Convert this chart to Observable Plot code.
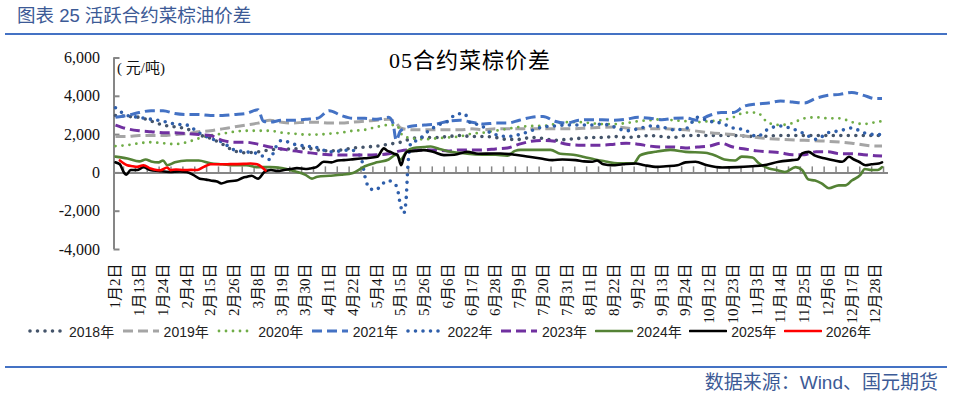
<!DOCTYPE html>
<html><head><meta charset="utf-8">
<script src="https://cdn.jsdelivr.net/npm/d3@7"></script>
<script src="https://cdn.jsdelivr.net/npm/@observablehq/plot@0.6"></script>
<style>
html,body{margin:0;padding:0;background:#fff;}
#page{position:relative;width:967px;height:395px;overflow:hidden;font-family:"Liberation Sans","Noto Sans CJK SC",sans-serif;}
#title{position:absolute;left:17px;top:3px;font-size:18.5px;color:#3c5a96;line-height:26px;white-space:nowrap;}
.rule{position:absolute;left:5px;width:942px;height:2px;background:#4472c4;}
#chart{position:absolute;left:0;top:40px;}
#ctitle{position:absolute;left:0;width:940px;text-align:center;top:47px;font-family:"Liberation Serif","Noto Sans CJK SC",serif;font-size:22px;letter-spacing:1px;color:#000;line-height:28px;}
#unit{position:absolute;left:117px;top:56px;font-family:"Liberation Serif","Noto Sans CJK SC",serif;font-size:15px;color:#111;white-space:pre;}
#legend{position:absolute;left:27px;top:321px;display:flex;}
.item{width:94.6px;display:flex;align-items:center;font-size:14px;color:#222;white-space:nowrap;}
.item svg{margin-right:4px;}
#source{position:absolute;right:29px;top:370px;font-size:19px;color:#3c5a96;line-height:26px;white-space:nowrap;}
</style></head>
<body>
<div id="page">
  <div id="title">图表 25 活跃合约菜棕油价差</div>
  <div class="rule" style="top:33px"></div>
  <div id="chart"></div>
  <div id="ctitle">05合约菜棕价差</div>
  <div id="unit">( 元/吨)</div>
  <div id="legend"></div>
  <div class="rule" style="top:366px"></div>
  <div id="source">数据来源：Wind、国元期货</div>
</div>
<script>
// x = trading-day category index (0 = 1月2日), y = spread (元/吨)
const xTickLabels = ["1月2日","1月13日","1月24日","2月4日","2月15日","2月26日","3月8日","3月19日","3月30日","4月11日","4月22日","5月4日","5月15日","5月26日","6月6日","6月17日","6月28日","7月9日","7月20日","7月31日","8月11日","8月22日","9月2日","9月13日","9月24日","10月12日","10月23日","11月3日","11月14日","11月25日","12月6日","12月17日","12月28日"];
const labelStep = 11;
const yTicks = [-4000,-2000,0,2000,4000,6000];
const yTickLabels = ["-4,000","-2,000","0","2,000","4,000","6,000"];
const seriesNames = ["2018年","2019年","2020年","2021年","2022年","2023年","2024年","2025年","2026年"];

const s2018 = [[0,3000],[5.5,2950],[11,2900],[16.5,2700],[22,2500],[27.5,2400],[33,2300],[38.5,2000],[44,1800],[49.5,1500],[55,1150],[60.5,1050],[66,1100],[71.5,1200],[77,1250],[82.5,1250],[88,1300],[93.5,1200],[99,1150],[104.5,1200],[110,1300],[115.5,1350],[121,1400],[126.5,1500],[132,1600],[137.5,1800],[143,1850],[148.5,1850],[154,1900],[159.5,1950],[165,1900],[170.5,1900],[176,1850],[181.5,1750],[187,1750],[192.5,1850],[198,1800],[203.5,1700],[209,1750],[214.5,1800],[220,1850],[225.5,1850],[231,1900],[236.5,1850],[242,1900],[247.5,1950],[253,1900],[258.5,1850],[264,1950],[275,1950],[286,1950],[297,1900],[308,1950],[319,1950],[330,1950],[341,1950],[352,1950],[355,1950]];
const s2019 = [[0,1900],[5.5,1900],[11,1950],[16.5,1950],[22,1950],[27.5,2000],[33,2050],[38.5,2150],[44,2200],[49.5,2300],[55,2400],[60.5,2500],[66,2600],[71.5,2750],[77,2650],[82.5,2600],[88,2650],[93.5,2650],[99,2600],[104.5,2600],[110,2650],[115.5,2700],[121,2750],[126.5,2800],[130,2600],[132,2350],[137.5,2250],[143,2250],[148.5,2250],[154,2250],[159.5,2250],[165,2300],[170.5,2250],[176,2300],[187,2300],[198,2300],[209,2300],[220,2350],[231,2400],[242,2300],[253,2300],[264,2250],[275,2100],[286,2000],[297,1850],[308,1750],[319,1700],[330,1650],[341,1550],[352,1400],[355,1400]];
const s2020 = [[0,1400],[5.5,1450],[11,1550],[16.5,1600],[22,1550],[27.5,1500],[33,1600],[38.5,1800],[44,1950],[49.5,2050],[55,2150],[60.5,2200],[66,2200],[71.5,2200],[77,2100],[82.5,2050],[88,2000],[93.5,2000],[99,2050],[104.5,2100],[110,2200],[115.5,2250],[121,2400],[126.5,2500],[130,2500],[133,1950],[137.5,1800],[143,1750],[148.5,1800],[154,1850],[159.5,1900],[165,2050],[170.5,2100],[176,2200],[181.5,2300],[187,2400],[192.5,2450],[198,2450],[203.5,2550],[209,2650],[214.5,2650],[220,2600],[225.5,2550],[231,2550],[236.5,2600],[242,2700],[247.5,2750],[253,2800],[258.5,2750],[264,2700],[269.5,2650],[275,2700],[280.5,2750],[286,2900],[291.5,3150],[297,3150],[302.5,2600],[308,2500],[313.5,2600],[319,2850],[324.5,2900],[330,2850],[335.5,2850],[341,2650],[346.5,2550],[352,2650],[355,2700]];
const s2021 = [[0,2900],[5.5,3000],[11,3150],[16.5,3250],[22,3250],[27.5,3100],[33,3050],[38.5,3050],[44,3000],[49.5,3000],[55,3050],[60.5,3100],[66,3300],[68.5,2700],[71.5,2650],[77,2750],[82.5,2750],[88,2800],[93.5,2850],[99,3250],[104.5,3000],[110,2850],[115.5,2850],[121,2800],[126.5,2900],[128.5,2600],[130,1700],[132,2200],[137.5,2450],[143,2500],[148.5,2550],[154,2700],[159.5,2750],[165,2650],[170.5,2550],[176,2600],[181.5,2600],[187,2750],[192.5,2900],[198,2950],[203.5,2700],[209,2600],[214.5,2750],[220,2780],[225.5,2780],[231,2750],[236.5,2800],[242,2900],[247.5,2850],[253,2780],[258.5,2850],[264,2870],[269.5,2750],[275,3000],[280.5,3150],[286,3150],[291.5,3500],[297,3600],[302.5,3650],[308,3750],[313.5,3700],[319,3650],[324.5,3900],[330,4050],[335.5,4100],[341,4200],[346.5,4050],[352,3880],[355,3880]];
const s2022 = [[0,3400],[5.5,3000],[11,2900],[16.5,2800],[22,2700],[27.5,2550],[33,2500],[38.5,2100],[44,1800],[49.5,1600],[55,1200],[60.5,1100],[66,1000],[71.5,700],[74,1300],[77,1700],[82.5,1500],[88,1400],[92.5,1350],[99.5,1100],[109,1200],[113.5,850],[116,-400],[117.5,-800],[120.5,-900],[123,-650],[126,-400],[129,-550],[130.5,-800],[132,-1700],[133.5,-2100],[134.5,-1500],[135.5,500],[137,1600],[140,1700],[144.5,2150],[150.5,2550],[154,2700],[157.5,3050],[161.5,3100],[164.5,2600],[169,2500],[173.5,2100],[176,2000],[181.5,1900],[187,2000],[192.5,2200],[198,2400],[203.5,2450],[209,2500],[214.5,2500],[220,2500],[225.5,2550],[231,2400],[236.5,2200],[242,2300],[247.5,2450],[253,2400],[258.5,2250],[264,2300],[269.5,2900],[275,2700],[280.5,2600],[286,2350],[291.5,2250],[297,1900],[302.5,2300],[308,2450],[313.5,2300],[319,2050],[324.5,1750],[330,2100],[335.5,2200],[341,2350],[346.5,2100],[352,2000],[355,2000]];
const s2023 = [[0,2500],[5.5,2300],[11,2200],[16.5,2150],[22,2100],[27.5,2100],[33,2050],[38.5,2000],[44,1950],[49.5,1700],[55,1600],[60.5,1600],[66,1500],[71.5,1350],[77,1250],[82.5,1150],[88,1080],[93.5,1000],[99,950],[104.5,930],[110,930],[115.5,930],[121,950],[126.5,1000],[132,1150],[137.5,1200],[143,1200],[148.5,1200],[154,1150],[159.5,1200],[165,1200],[170.5,1200],[176,1250],[181.5,1300],[187,1500],[192.5,1650],[198,1700],[203.5,1650],[209,1500],[214.5,1450],[220,1450],[225.5,1450],[231,1500],[236.5,1550],[242,1500],[247.5,1400],[253,1350],[258.5,1350],[264,1300],[269.5,1350],[275,1400],[280.5,1550],[286,1350],[291.5,1250],[297,1150],[302.5,1100],[308,1050],[313.5,950],[319,950],[324.5,1100],[330,1100],[335.5,1000],[341,1000],[346.5,950],[352,900],[355,880]];
const s2024 = [[0,850],[5.5,750],[11,600],[14,700],[16.5,600],[20,550],[22,650],[24,400],[27.5,550],[33,650],[38.5,650],[44,500],[49.5,450],[55,400],[60.5,400],[66,300],[71.5,300],[77,250],[82.5,100],[88,-100],[91,-300],[93.5,-200],[99,-150],[104.5,-100],[110,0],[115.5,350],[121,550],[126.5,700],[130,950],[132,700],[135,1150],[138,1300],[143,1350],[146,1380],[150,1250],[155,1100],[159.5,1050],[163,1000],[170,950],[176,950],[181.5,900],[185,1150],[187.6,1200],[195,1200],[201.5,1200],[206,1000],[212,950],[217,830],[222,700],[227,600],[232.5,500],[240,500],[243,920],[250,1100],[257,1200],[264,1100],[273,1050],[278,900],[282,700],[287,650],[290,850],[295,800],[298,500],[302.6,230],[306,150],[310,50],[315,300],[318,150],[321,-350],[324,-400],[327,-550],[330.4,-800],[335,-650],[338,-650],[341,-400],[345,-100],[347,200],[350,150],[353,150],[355,300]];
const s2025 = [[0,550],[2,450],[4,0],[5,-100],[7,150],[10,150],[13,300],[16,150],[20,100],[25,50],[30,80],[33,50],[36,-100],[39,-300],[42,-350],[44,-400],[47,-450],[49,-550],[52,-450],[56,-400],[59,-250],[61,-200],[63,-150],[66,-300],[69,50],[72,150],[75,100],[78,150],[81,200],[84,250],[88,200],[90,230],[93,300],[96.5,580],[100,550],[103,650],[105.8,665],[109,700],[113.5,750],[117,780],[121.2,840],[124.3,1280],[126,1150],[127.4,1100],[129,1000],[130.5,950],[132.3,400],[133.5,800],[135.1,1100],[139,1150],[142.8,1190],[147,1100],[152.1,930],[157,950],[162.9,1100],[168,1000],[175.2,1015],[178.3,1015],[185,950],[191.5,840],[197,750],[202.3,665],[207,700],[213.1,665],[217,600],[220.8,580],[223,650],[226,450],[230,400],[235,450],[240.9,490],[245,400],[250.9,315],[255,350],[260.2,400],[264,550],[268.6,580],[274,400],[281,280],[288,300],[294.9,350],[300,400],[307.2,580],[313.4,665],[316,700],[318,1015],[321,1100],[324,900],[328.8,750],[333,650],[336.6,580],[339.7,840],[342,700],[344.3,580],[347.4,400],[350,450],[353.5,490],[355,550]];
const s2026 = [[2,650],[5.4,400],[8,350],[10,315],[13,400],[16.2,230],[19,150],[20.8,140],[23.9,280],[25.5,140],[28,180],[31.6,150],[35,160],[37.8,150],[40.9,315],[44,455],[48,450],[51.7,455],[56,460],[59.4,470],[62.5,490],[65.6,450],[68,280],[69.5,120]];

const seriesData = [s2018,s2019,s2020,s2021,s2022,s2023,s2024,s2025,s2026];
const seriesStyle = [
  {stroke:"#44546a", strokeWidth:3.6, strokeDasharray:"0 7.5", strokeLinecap:"round"},
  {stroke:"#a5a5a5", strokeWidth:3, strokeDasharray:"10 5", strokeLinecap:"butt"},
  {stroke:"#70ad47", strokeWidth:2.8, strokeDasharray:"0 7", strokeLinecap:"round"},
  {stroke:"#4472c4", strokeWidth:3, strokeDasharray:"10 5", strokeLinecap:"butt"},
  {stroke:"#2f5fab", strokeWidth:3.6, strokeDasharray:"0 7.5", strokeLinecap:"round"},
  {stroke:"#7030a0", strokeWidth:3, strokeDasharray:"10 5", strokeLinecap:"butt"},
  {stroke:"#548235", strokeWidth:2.6, strokeDasharray:null, strokeLinecap:"round"},
  {stroke:"#000000", strokeWidth:2.6, strokeDasharray:null, strokeLinecap:"round"},
  {stroke:"#ff0000", strokeWidth:2.6, strokeDasharray:null, strokeLinecap:"round"}
];

const xDomain = [-0.7, 358];
const xTickPos = xTickLabels.map((_, i) => i * labelStep);
const zeroTicks = d3.range(labelStep / 2 - 1.8, xDomain[1], labelStep / 2);
const axisGray = "#868686";
const serif = "'Liberation Serif','Noto Sans CJK SC',serif";

const lineMarks = seriesData.map((data, i) => {
  const st = seriesStyle[i];
  const opts = {x: d => d[0], y: d => d[1], stroke: st.stroke, strokeWidth: st.strokeWidth, strokeLinecap: st.strokeLinecap, strokeLinejoin: "round", curve: "monotone-x"};
  if (st.strokeDasharray) opts.strokeDasharray = st.strokeDasharray;
  return Plot.line(data, opts);
});

const chart = Plot.plot({
  width: 967, height: 300,
  marginLeft: 113.5, marginRight: 79, marginTop: 17.5, marginBottom: 91,
  style: {background: "transparent", overflow: "visible", fontFamily: serif},
  x: {type: "linear", domain: xDomain},
  y: {type: "linear", domain: [yTicks[0], yTicks[yTicks.length - 1]]},
  marks: [
    Plot.ruleX([xDomain[0]], {y1: yTicks[0], y2: yTicks[yTicks.length - 1], stroke: axisGray, strokeWidth: 2}),
    Plot.ruleY(yTicks, {y: d => d, x1: xDomain[0], x2: xDomain[0], insetRight: -6, stroke: axisGray, strokeWidth: 2}),
    Plot.ruleY([0], {x1: xDomain[0], x2: xDomain[1], stroke: axisGray, strokeWidth: 2}),
    Plot.ruleX(zeroTicks, {x: d => d, y1: 0, y2: 0, insetTop: -6, stroke: axisGray, strokeWidth: 1.5}),
    Plot.axisY({ticks: yTicks, tickSize: 0, tickPadding: 14, tickFormat: d => yTickLabels[yTicks.indexOf(d)], fontSize: 16, fontFamily: serif, fill: "#111"}),
    Plot.axisX({anchor: "bottom", ticks: xTickPos, tickSize: 0, tickPadding: 14, tickRotate: -90, tickFormat: d => xTickLabels[Math.round(d / labelStep)], fontSize: 15, fontFamily: serif, fill: "#111", label: null}),
    ...lineMarks
  ]
});
document.getElementById("chart").appendChild(chart);

// legend
const legend = d3.select("#legend");
seriesNames.forEach((name, i) => {
  const st = seriesStyle[i];
  const item = legend.append("div").attr("class", "item");
  const svg = item.append("svg").attr("width", 38).attr("height", 12);
  const ln = svg.append("line").attr("x1", st.strokeLinecap === "round" && st.strokeDasharray ? 3 : 1).attr("x2", 37).attr("y1", 6).attr("y2", 6)
    .attr("stroke", st.stroke).attr("stroke-width", st.strokeWidth).attr("stroke-linecap", st.strokeLinecap);
  if (st.strokeDasharray) ln.attr("stroke-dasharray", st.strokeDasharray);
  item.append("span").text(name);
});
</script>
</body></html>
